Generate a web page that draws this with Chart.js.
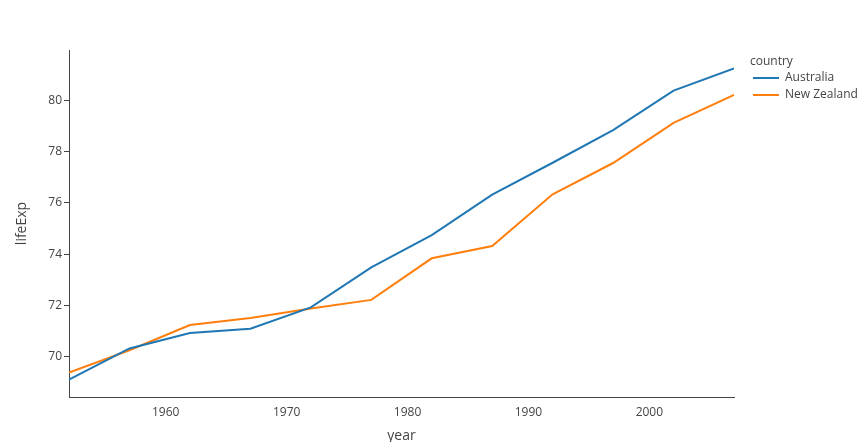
<!DOCTYPE html>
<html>
<head>
<meta charset="utf-8">
<script src="https://cdn.jsdelivr.net/npm/chart.js@4"></script>
<style>
  html, body { margin: 0; padding: 0; background: #fff; }
  #wrap { width: 863px; height: 442px; position: relative; }
</style>
</head>
<body>
<div id="wrap"><canvas id="chart"></canvas></div>
<script>
const years = [1952, 1957, 1962, 1967, 1972, 1977, 1982, 1987, 1992, 1997, 2002, 2007];
const australia = [69.12, 70.33, 70.93, 71.10, 71.93, 73.49, 74.74, 76.32, 77.56, 78.83, 80.37, 81.235];
const newZealand = [69.39, 70.26, 71.24, 71.52, 71.89, 72.22, 73.84, 74.32, 76.33, 77.55, 79.11, 80.204];
const xTicks = [1960, 1970, 1980, 1990, 2000];
const yTicks = [70, 72, 74, 76, 78, 80];

const FONT = '"Open Sans", sans-serif';
const INK = '#444';

// axis titles + legend, drawn by hand to match the plotly layout
const extras = {
  id: 'extras',
  afterDraw(c) {
    const ctx = c.ctx;
    const area = c.chartArea;
    ctx.save();
    ctx.fillStyle = INK;
    ctx.font = '14px ' + FONT;
    ctx.textAlign = 'center';
    ctx.textBaseline = 'middle';
    ctx.fillText('year', (area.left + area.right) / 2, 436);
    ctx.translate(22, (area.top + area.bottom) / 2);
    ctx.rotate(-Math.PI / 2);
    ctx.fillText('lifeExp', 0, 0);
    ctx.restore();

    ctx.save();
    ctx.font = '12px ' + FONT;
    ctx.textAlign = 'left';
    ctx.textBaseline = 'middle';
    ctx.fillStyle = INK;
    ctx.fillText('country', 750, 62);
    c.data.datasets.forEach((ds, i) => {
      const y = 78 + i * 17;
      ctx.strokeStyle = ds.borderColor;
      ctx.lineWidth = 2;
      ctx.beginPath();
      ctx.moveTo(753, y);
      ctx.lineTo(779, y);
      ctx.stroke();
      ctx.fillStyle = INK;
      ctx.fillText(ds.label, 785, y);
    });
    ctx.restore();
  }
};

new Chart(document.getElementById('chart'), {
  type: 'line',
  data: {
    datasets: [
      {
        label: 'Australia',
        data: years.map((y, i) => ({ x: y, y: australia[i] })),
        borderColor: '#1f77b4',
        backgroundColor: '#1f77b4',
        borderWidth: 2,
        pointRadius: 0,
        tension: 0
      },
      {
        label: 'New Zealand',
        data: years.map((y, i) => ({ x: y, y: newZealand[i] })),
        borderColor: '#ff7f0e',
        backgroundColor: '#ff7f0e',
        borderWidth: 2,
        pointRadius: 0,
        tension: 0
      }
    ]
  },
  options: {
    responsive: true,
    maintainAspectRatio: false,
    animation: false,
    layout: { padding: { top: 50, right: 129, left: 0, bottom: 0 } },
    plugins: { legend: { display: false }, tooltip: { enabled: false } },
    scales: {
      x: {
        type: 'linear',
        min: 1952,
        max: 2007,
        afterBuildTicks: s => { s.ticks = xTicks.map(v => ({ value: v })); },
        afterFit: s => { s.height = 45; },
        grid: { display: false, drawTicks: false },
        border: { display: true, color: INK, width: 1 },
        ticks: { color: INK, font: { family: FONT, size: 12 }, padding: 8, maxRotation: 0, callback: v => String(v) }
      },
      y: {
        min: 68.44,
        max: 81.95,
        afterBuildTicks: s => { s.ticks = yTicks.map(v => ({ value: v })); },
        afterFit: s => { s.width = 69; },
        grid: { display: true, drawOnChartArea: false, drawTicks: true, tickLength: 5, color: INK },
        border: { display: true, color: INK, width: 1 },
        ticks: { color: INK, font: { family: FONT, size: 12 }, padding: 2 }
      }
    }
  },
  plugins: [extras]
});
</script>
</body>
</html>
